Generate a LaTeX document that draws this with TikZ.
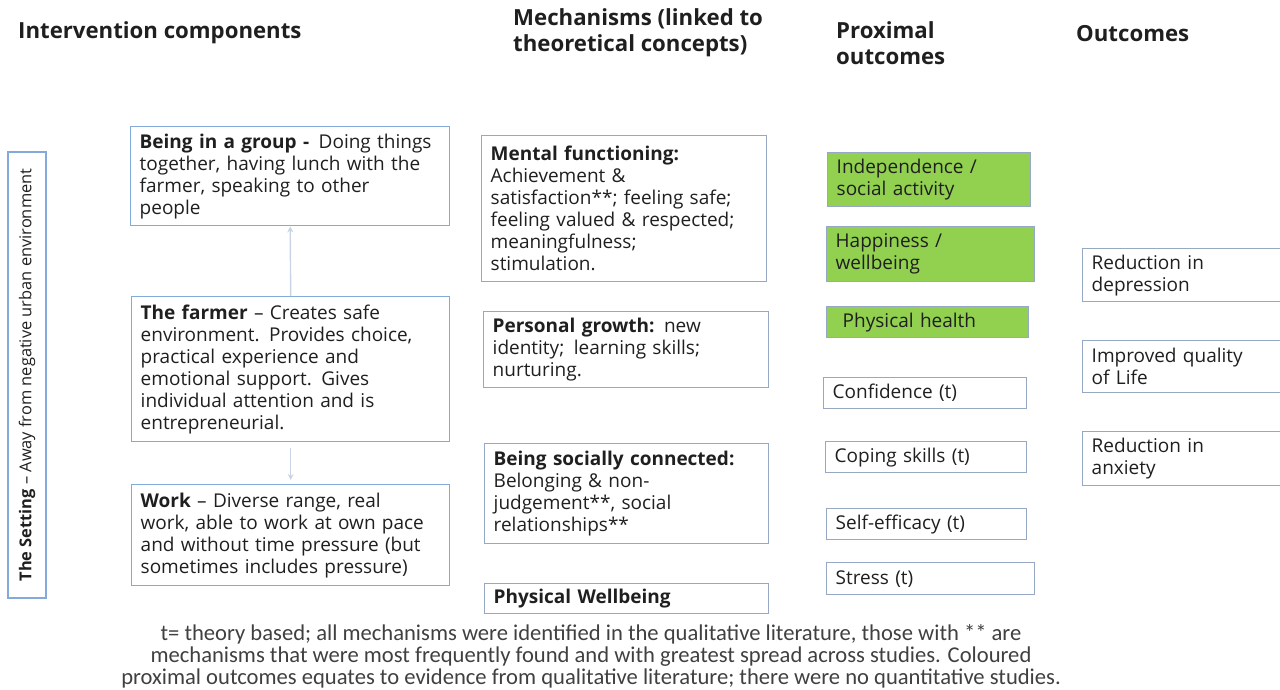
\documentclass[tikz,border=0pt]{standalone}
\usepackage{fontspec}
\setmainfont{Open Sans}
\newfontfamily\notefont{Carlito}
\usepackage{xcolor}
\usetikzlibrary{positioning, arrows.meta}
\definecolor{compblue}{RGB}{130,170,218}
\definecolor{mechgray}{RGB}{150,168,196}
\definecolor{proxgreen}{RGB}{146,208,80}
\definecolor{linkgray}{RGB}{200,212,228}
\definecolor{notegray}{RGB}{64,64,64}

\begin{document}
\begin{tikzpicture}[x=1pt, y=-1pt, >={Stealth[length=6pt, width=6pt]},
    comp/.style={draw=compblue, line width=1.4pt, anchor=north west, align=left, inner xsep=9pt, inner ysep=0pt, text=black!88, font=\fontsize{19}{22}\selectfont},
    mech/.style={comp, draw=mechgray},
    prox/.style={mech, fill=proxgreen},
    head/.style={anchor=west, align=left, inner sep=0pt, text=black!88, font=\fontsize{22.2}{26}\selectfont\bfseries}]
    \useasboundingbox (0,0) rectangle (1280,690);
    \clip (0,0) rectangle (1280,690);

    % column headings
    \node[head] at (18,33) (H1) {Intervention components};
    \node[head] at (513,33) (H2) {Mechanisms (linked to\\theoretical concepts)};
    \node[head] at (836,43) (H3) {Proximal\\outcomes};
    \node[head] at (1076,34) (H4) {Outcomes};

    % intervention components
    \node[comp, rotate=90, anchor=center, align=center, inner sep=0pt, minimum width=446pt, minimum height=38pt, font=\fontsize{16.4}{18}\selectfont] at (27,375) (S) {\textbf{The Setting} – Away from negative urban environment};
    \node[comp, text width=301pt, minimum height=99pt] at (130,126) (G) {\textbf{Being in a group -}\enspace Doing things\\together, having lunch with the\\farmer, speaking to other\\people};
    \node[comp, text width=300pt, minimum height=145pt] at (131,296) (F) {\textbf{The farmer} – Creates safe\\environment.\enspace Provides choice,\\practical experience and\\emotional support.\enspace Gives\\individual attention and is\\entrepreneurial.};
    \node[comp, text width=300pt, minimum height=101pt] at (131,484) (W) {\textbf{Work} – Diverse range, real\\work, able to work at own pace\\and without time pressure (but\\sometimes includes pressure)};
    \draw[->, linkgray, line width=1.4pt] (F.north) -- (G.south);
    \draw[->, linkgray, line width=1.4pt, shorten <=6pt, shorten >=4pt] (F.south) -- (W.north);

    % mechanisms
    \node[mech, text width=267pt, minimum height=146pt] at (481,135) (M) {\textbf{Mental functioning:}\\Achievement \&\\satisfaction**; feeling safe;\\feeling valued \& respected;\\meaningfulness;\\stimulation.};
    \node[mech, text width=267pt, minimum height=76pt] at (483,311) (P) {\textbf{Personal growth:} new\\identity;\enspace learning skills;\\nurturing.};
    \node[mech, text width=266pt, minimum height=100pt] at (484,443) (C) {\textbf{Being socially connected:}\\Belonging \& non-\\judgement**, social\\relationships**};
    \node[mech, text width=266pt, minimum height=30pt] at (484,583) (PW) {\textbf{Physical Wellbeing}};

    % proximal outcomes
    \node[prox, text width=185pt, minimum height=54pt] at (827,152) (I) {Independence /\\social activity};
    \node[prox, text width=190pt, minimum height=55pt] at (826,226) (HW) {Happiness /\\wellbeing};
    \node[prox, inner xsep=16pt, text width=170pt, minimum height=31pt] at (826,306) (PH) {Physical health};
    \node[mech, text width=185pt, minimum height=31pt] at (823,377) (CF) {Confidence (t)};
    \node[mech, text width=183pt, minimum height=31pt] at (825,441) (CS) {Coping skills (t)};
    \node[mech, text width=182pt, minimum height=31pt] at (826,508) (SE) {Self-efficacy (t)};
    \node[mech, text width=190pt, minimum height=32pt] at (826,562) (ST) {Stress (t)};

    % outcomes
    \node[mech, text width=202pt, minimum height=53pt] at (1082,248) (O1) {Reduction in\\depression};
    \node[mech, text width=202pt, minimum height=52pt] at (1082,340) (O2) {Improved quality\\of Life};
    \node[mech, text width=202pt, minimum height=54pt] at (1082,431) (O3) {Reduction in\\anxiety};

    % note
    \node[align=center, inner sep=0pt, text=notegray, font=\notefont\fontsize{22.6}{22}\selectfont] at (591,656) (N) {t= theory based; all mechanisms were identified in the qualitative literature, those with ** are\\mechanisms that were most frequently found and with greatest spread across studies. Coloured\\proximal outcomes equates to evidence from qualitative literature; there were no quantitative studies.};
\end{tikzpicture}
\end{document}
